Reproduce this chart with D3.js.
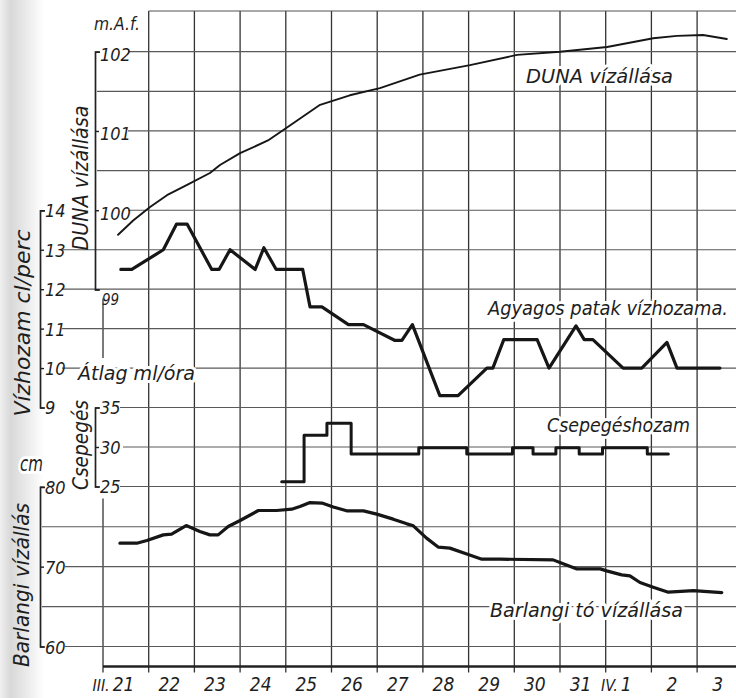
<!DOCTYPE html>
<html>
<head>
<meta charset="utf-8">
<script src="https://cdn.jsdelivr.net/npm/d3@7"></script>
<style>
body{margin:0;background:#fff;}
svg{display:block;}
text{font-family:"Liberation Sans Narrow","DejaVu Sans Condensed","Liberation Sans",sans-serif;font-style:italic;fill:#1e1e1e;}
.halo{stroke:#fff;stroke-width:6px;paint-order:stroke;stroke-linejoin:round;}
</style>
</head>
<body>
<svg id="chart" width="736" height="698"></svg>
<script>
// napok: III.21 .. IV.3 (t = nap kezdete óta eltelt napok)
const dayLabels = ["21","22","23","24","25","26","27","28","29","30","31","1","2","3"];
const monthLabels = ["III.","","","","","","","","","","","IV.","",""];

// DUNA vízállása (m A.f.)
const dunaT = [0.33,0.66,1.03,1.40,1.84,2.34,2.56,3.00,3.61,4.09,4.75,5.40,6.06,6.93,8.03,9.06,10.0,11.03,12.04,12.56,13.13,13.65];
const dunaV = [99.69,99.87,100.04,100.19,100.32,100.47,100.57,100.72,100.88,101.07,101.33,101.45,101.54,101.71,101.83,101.96,102.0,102.06,102.17,102.20,102.21,102.16];

// Agyagos patak vízhozama (cl/perc)
const agyT = [0.39,0.63,1.32,1.61,1.84,2.38,2.54,2.78,3.33,3.52,3.79,4.37,4.53,4.79,5.37,5.70,6.39,6.54,6.77,7.37,7.77,8.40,8.53,8.77,9.50,9.76,10.35,10.53,10.72,11.38,11.79,12.34,12.56,13.50];
const agyV = [12.5,12.5,13.0,13.65,13.65,12.5,12.5,13.0,12.5,13.05,12.5,12.5,11.55,11.55,11.1,11.1,10.7,10.7,11.1,9.3,9.3,10.0,10.0,10.72,10.72,10.0,11.07,10.72,10.72,10.0,10.0,10.65,10.0,10.0];

// Csepegéshozam (ml/óra), lépcsős
const csepT = [3.91,4.40,4.90,5.43,6.91,7.96,8.96,9.41,9.91,10.42,10.93,11.91,12.37];
const csepV = [25.6,31.5,33.0,29.1,29.9,29.1,29.9,29.1,29.9,29.1,29.9,29.1,29.1];

// Barlangi tó vízállása (cm)
const barlT = [0.37,0.74,0.96,1.32,1.50,1.82,2.12,2.34,2.52,2.74,3.00,3.40,3.80,4.13,4.31,4.53,4.79,5.04,5.33,5.70,5.99,6.35,6.65,6.79,7.08,7.34,7.59,7.96,8.29,8.69,9.85,10.07,10.37,10.88,11.02,11.35,11.53,11.75,12.04,12.37,12.92,13.54];
const barlV = [72.94,72.94,73.27,73.98,74.07,75.15,74.40,73.98,73.98,75.03,75.78,77.03,77.03,77.2,77.53,78.03,77.96,77.46,76.99,76.99,76.58,75.95,75.36,75.11,73.57,72.44,72.32,71.57,70.94,70.94,70.85,70.35,69.72,69.72,69.47,68.97,68.85,68.01,67.43,66.8,67.0,66.75];

const dunaTicks = [99,100,101,102];
const vizTicks = [9,10,11,12,13,14];
const csepTicks = [25,30,35];
const barlTicks = [60,70,80];

const W = 736, H = 698;
const svg = d3.select("#chart");

// papír széle (szkennelt lap)
const defs = svg.append("defs");
const grad = defs.append("linearGradient").attr("id","edge").attr("x1",0).attr("x2",1);
grad.append("stop").attr("offset","0%").attr("stop-color","#f0f0f0");
grad.append("stop").attr("offset","25%").attr("stop-color","#d8d8d8");
grad.append("stop").attr("offset","100%").attr("stop-color","#fff");
svg.append("rect").attr("width",W).attr("height",H).attr("fill","#fff");
svg.append("rect").attr("width",44).attr("height",H).attr("fill","url(#edge)");

let x = d3.scaleLinear().domain([0,14]).range([103, 742.8]);
let yDuna = d3.scaleLinear().domain([99,102]).range([289.5, 51.7]);
let yViz = d3.scaleLinear().domain([9,14]).range([407.5, 210.3]);
let yCsep = d3.scaleLinear().domain([25,35]).range([486.5, 407.5]);
let yBarl = d3.scaleLinear().domain([60,80]).range([646.5, 486.8]);
const yTop = 11, yBottom = 666.5;

// rács
let grid = svg.append("g").attr("fill","none");
grid.selectAll("line.v")
    .data(d3.range(1,14))
    .enter().append("line")
    .attr("x1", d=>x(d)).attr("x2", d=>x(d))
    .attr("y1", yTop).attr("y2", yBottom+6)
    .attr("stroke","#333").attr("stroke-width",1.3);

[[yDuna(99)+9, yViz(10)-10],[yCsep(25)+12, yBottom+6]].forEach(s=>{
    grid.append("line")
        .attr("x1", x(0)).attr("x2", x(0))
        .attr("y1", s[0]).attr("y2", s[1])
        .attr("stroke","#333").attr("stroke-width",1.3);
});

grid.append("line")
    .attr("x1", x(1)).attr("x2", W).attr("y1", yTop).attr("y2", yTop)
    .attr("stroke","#555").attr("stroke-width",1.2);

function hgrid(scale, vals, x0){
    grid.selectAll(null)
        .data(vals)
        .enter().append("line")
        .attr("x1", x0).attr("x2", W)
        .attr("y1", d=>scale(d)).attr("y2", d=>scale(d))
        .attr("stroke","#5a5a5a").attr("stroke-width",1.2);
}
hgrid(yDuna, [102,101,100], 128);
hgrid(yDuna, [101.5,100.5], 97);
hgrid(yViz, [13,12,11,10], 62);
hgrid(yCsep, [35,25], 120);
hgrid(yCsep, [30], 123);
hgrid(yBarl, [75,65], 42);
hgrid(yBarl, [70,60], 65);

svg.append("line")
    .attr("x1", x(0)).attr("x2", W).attr("y1", yBottom).attr("y2", yBottom)
    .attr("stroke","#222").attr("stroke-width",2.6);

// tengelyek (szögletes zárójel forma)
function bracket(scale, ticks, xpos, fs, dy){
    let g = svg.append("g")
        .attr("transform", `translate(${xpos},0)`)
        .call(d3.axisRight(scale).tickValues(ticks)
            .tickSizeInner(4).tickSizeOuter(5).tickPadding(1)
            .tickFormat(d3.format("d")));
    g.select(".domain").attr("stroke","#222").attr("stroke-width",1.7);
    g.selectAll(".tick line").attr("stroke","#222").attr("stroke-width",1.4);
    g.selectAll(".tick text").attr("font-size", fs).attr("dy", dy);
    return g;
}
let aDuna = bracket(yDuna, dunaTicks, 95, 18, "0.5em");
aDuna.selectAll(".tick text").filter(d=>d===99).attr("dy","1.0em").attr("x",7).attr("font-size",15);
bracket(yViz, vizTicks, 40, 18, "0.36em");
bracket(yCsep, csepTicks, 95, 18, "0.36em");
bracket(yBarl, barlTicks, 40, 18, "0.38em");

// tengelyfeliratok
function vtitle(txt, bx, cy, len, fs){
    svg.append("text")
        .attr("transform", `translate(${bx},${cy}) rotate(-90)`)
        .attr("text-anchor","middle")
        .attr("font-size", fs)
        .attr("textLength", len)
        .attr("lengthAdjust","spacingAndGlyphs")
        .text(txt);
}
vtitle("DUNA vízállása", 88, 178, 145, 21);
vtitle("Vízhozam cl/perc", 30, 323, 187, 21);
vtitle("Csepegés", 88, 445, 90, 21);
vtitle("Barlangi vízállás", 29, 585, 164, 21);

function label(txt, x0, base, len, fs){
    svg.append("text")
        .attr("class","halo")
        .attr("x", x0).attr("y", base)
        .attr("font-size", fs)
        .attr("textLength", len)
        .attr("lengthAdjust","spacingAndGlyphs")
        .text(txt);
}
label("m.A.f.", 94, 30, 46, 18);
label("cm", 20, 471, 23, 21);
label("Átlag ml/óra", 78, 380, 117, 19);
label("DUNA vízállása", 526, 83, 147, 20);
label("Agyagos patak vízhozama.", 488, 315, 240, 20);
label("Csepegéshozam", 547, 432, 143, 20);
label("Barlangi tó vízállása", 490, 617, 193, 20);

// dátumok
let dl = svg.append("g");
dayLabels.forEach((d,i)=>{
    let cx = x(i + 0.45);
    let t = dl.append("text")
        .attr("x", cx).attr("y", 691)
        .attr("text-anchor","middle")
        .attr("font-size", 19)
        .text(d);
    if(monthLabels[i]){
        let w = t.node().getComputedTextLength();
        dl.append("text")
            .attr("x", cx - w/2 - 3).attr("y", 691)
            .attr("text-anchor","end")
            .attr("font-size", 16)
            .text(monthLabels[i]);
    }
});

// adatsorok
function series(T, V, scale, width, curve){
    let pts = T.map((t,i)=>[t, V[i]]);
    let line = d3.line()
        .x(d=>x(d[0]))
        .y(d=>scale(d[1]))
        .curve(curve || d3.curveLinear);
    svg.append("path")
        .attr("d", line(pts))
        .attr("fill","none")
        .attr("stroke","#161616")
        .attr("stroke-width", width)
        .attr("stroke-linejoin","round")
        .attr("stroke-linecap","round");
}
series(dunaT, dunaV, yDuna, 1.9);
series(agyT, agyV, yViz, 3.2);
series(csepT, csepV, yCsep, 3.0, d3.curveStepAfter);
series(barlT, barlV, yBarl, 3.2);
</script>
</body>
</html>
